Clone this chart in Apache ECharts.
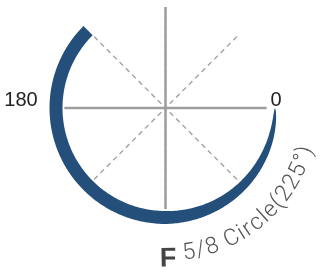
<!DOCTYPE html>
<html><head><meta charset="utf-8">
<script src="https://cdn.jsdelivr.net/npm/echarts@6/dist/echarts.min.js"></script>
<style>html,body{margin:0;padding:0;background:#fff}#c{width:320px;height:272px}</style>
</head><body><div id="c"></div>
<script>
// ---- data ----
const angleLabels = [0, 180];          // angle axis labels shown
const arcStart = 0;                    // degrees
const arcSweep = 225;                  // degrees (5/8 of a circle)
const titleLetter = 'F';
const titleText = '5/8 Circle(225°)';

// ---- style constants ----
const CENTER = [165.5, 108];
const AXIS_R = 101;            // px for radius value 100
const ARC_R = 108.4;           // radial units
const ARC_W = 13;              // px
const TAPER = 90;              // degrees
const ARC_COLOR = '#234f7a';
const LABEL_FONT = '20px "Liberation Sans", Arial, sans-serif';
const TITLE_FONT = '300 23px Roboto, Lato, "Liberation Sans", sans-serif';
const LETTER_FONT = 'bold 27px "Liberation Sans", Arial, sans-serif';

const mctx = document.createElement('canvas').getContext('2d');
function measure(font, s) { mctx.font = font; return mctx.measureText(s).width; }

const chart = echarts.init(document.getElementById('c'));

function arcRender(params, api) {
  const s = api.value(1), sw = api.value(2);
  const c = api.coord([0, 0]);
  const outer = [], inner = [];
  for (let d = 0; d <= sw; d += 1) {
    const a = s + d;
    const p = api.coord([ARC_R, a]);
    const dx = p[0] - c[0], dy = p[1] - c[1];
    const len = Math.sqrt(dx * dx + dy * dy);
    const ux = dx / len, uy = dy / len;
    const w = ARC_W * Math.min(1, Math.sqrt(d / TAPER));
    outer.push([p[0] + ux * w / 2, p[1] + uy * w / 2]);
    inner.push([p[0] - ux * w / 2, p[1] - uy * w / 2]);
  }
  const pts = outer.concat(inner.reverse());
  return { type: 'polygon', shape: { points: pts }, style: { fill: ARC_COLOR } };
}

function labelRender(params, api) {
  const a = api.value(1);
  const p = api.coord([ARC_R, a]);
  const isRight = a === 0;
  return {
    type: 'text',
    x: isRight ? p[0] + 1 : p[0] - 35,
    y: p[1] - 8,
    style: { text: String(a), font: LABEL_FONT, fill: '#222', align: 'center', verticalAlign: 'middle' }
  };
}

function titleRender(params, api) {
  const children = [];
  const rLetter = 151 / AXIS_R * 100, rText = 147 / AXIS_R * 100;
  const rPx = 147;
  const spacing = 1;
  const items = [{ ch: titleLetter, font: LETTER_FONT, fill: '#444', r: rLetter }, { ch: ' ', font: TITLE_FONT, fill: '#555', r: rText }];
  for (const ch of titleText) items.push({ ch, font: TITLE_FONT, fill: '#555', r: rText });
  let phi0 = 89;
  let acc = 0;
  const first = measure(items[0].font, items[0].ch) / 2;
  items.forEach((it, i) => {
    const w = measure(it.font, it.ch);
    const center = acc + w / 2;
    acc += w + (i > 0 ? spacing : 0);
    const phi = phi0 - (center - first) / rPx * 180 / Math.PI;
    if (it.ch === ' ') return;
    const p = api.coord([it.r, phi]);
    children.push({
      type: 'text', x: p[0], y: p[1], rotation: (90 - phi) * Math.PI / 180,
      style: { text: it.ch, font: it.font, fill: it.fill, align: 'center', verticalAlign: 'middle' }
    });
  });
  return { type: 'group', children };
}

chart.setOption({
  animation: false,
  backgroundColor: '#fff',
  polar: [
    { center: CENTER, radius: AXIS_R },
    { center: CENTER, radius: AXIS_R }
  ],
  angleAxis: [
    { polarIndex: 0, type: 'value', min: 0, max: 360, interval: 90, startAngle: 0, clockwise: true, z: 2,
      axisLine: { show: false }, axisTick: { show: false }, axisLabel: { show: false },
      splitLine: { show: true, lineStyle: { color: '#9e9e9e', width: 2.5 } } },
    { polarIndex: 1, type: 'value', min: 0, max: 360, interval: 45, startAngle: 0, clockwise: true, z: 1,
      axisLine: { show: false }, axisTick: { show: false }, axisLabel: { show: false },
      splitLine: { show: true, lineStyle: { color: '#a8a8a8', width: 1.5, type: [5, 4] } } }
  ],
  radiusAxis: [
    { polarIndex: 0, type: 'value', min: 0, max: 100, show: false },
    { polarIndex: 1, type: 'value', min: 0, max: 100, show: false }
  ],
  series: [
    { type: 'custom', coordinateSystem: 'polar', polarIndex: 0, z: 5, silent: true,
      renderItem: arcRender, data: [[ARC_R, arcStart, arcSweep]] },
    { type: 'custom', coordinateSystem: 'polar', polarIndex: 0, z: 6, silent: true,
      renderItem: labelRender, data: angleLabels.map(a => [ARC_R, a]) },
    { type: 'custom', coordinateSystem: 'polar', polarIndex: 0, z: 6, silent: true,
      renderItem: titleRender, data: [[0, 0]] }
  ]
});
</script></body></html>
